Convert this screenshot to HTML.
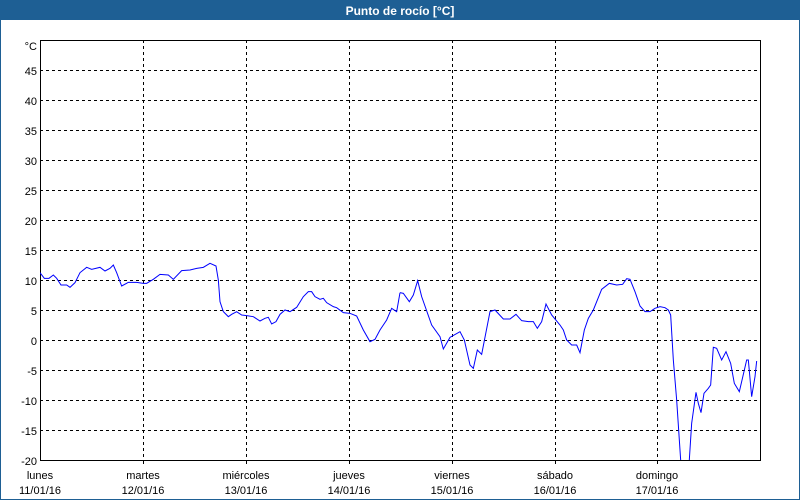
<!DOCTYPE html>
<html><head><meta charset="utf-8"><style>
html,body{margin:0;padding:0;}
body{width:800px;height:500px;overflow:hidden;background:#fff;font-family:"Liberation Sans",Tahoma,sans-serif;}
</style></head><body>
<svg width="800" height="500" xmlns="http://www.w3.org/2000/svg" style="display:block">
<rect x="0" y="0" width="800" height="500" fill="#fff"/>
<rect x="0" y="0" width="800" height="20" fill="#1e5f94"/>
<rect x="0.5" y="0.5" width="799" height="499" fill="none" stroke="#1e5f94" stroke-width="1"/>
<text x="400" y="15" fill="#fff" font-size="12" font-weight="bold" text-anchor="middle" font-family="Liberation Sans, sans-serif">Punto de rocío [°C]</text>
<g stroke="#000" stroke-width="1" stroke-dasharray="3,3" shape-rendering="crispEdges">
<line x1="40" y1="70.5" x2="760" y2="70.5"/><line x1="40" y1="100.5" x2="760" y2="100.5"/>
<line x1="40" y1="130.5" x2="760" y2="130.5"/><line x1="40" y1="160.5" x2="760" y2="160.5"/>
<line x1="40" y1="190.5" x2="760" y2="190.5"/><line x1="40" y1="220.5" x2="760" y2="220.5"/>
<line x1="40" y1="250.5" x2="760" y2="250.5"/><line x1="40" y1="280.5" x2="760" y2="280.5"/>
<line x1="40" y1="310.5" x2="760" y2="310.5"/><line x1="40" y1="340.5" x2="760" y2="340.5"/>
<line x1="40" y1="370.5" x2="760" y2="370.5"/><line x1="40" y1="400.5" x2="760" y2="400.5"/>
<line x1="40" y1="430.5" x2="760" y2="430.5"/>
<line x1="143.5" y1="40" x2="143.5" y2="460"/><line x1="246.5" y1="40" x2="246.5" y2="460"/>
<line x1="349.5" y1="40" x2="349.5" y2="460"/><line x1="452.5" y1="40" x2="452.5" y2="460"/>
<line x1="555.5" y1="40" x2="555.5" y2="460"/><line x1="657.5" y1="40" x2="657.5" y2="460"/>
</g>
<rect x="40.5" y="40.5" width="720" height="420" fill="none" stroke="#000" stroke-width="1" shape-rendering="crispEdges"/>
<g stroke="#000" shape-rendering="crispEdges">
<line x1="143.5" y1="460" x2="143.5" y2="464"/><line x1="246.5" y1="460" x2="246.5" y2="464"/>
<line x1="349.5" y1="460" x2="349.5" y2="464"/><line x1="452.5" y1="460" x2="452.5" y2="464"/>
<line x1="555.5" y1="460" x2="555.5" y2="464"/><line x1="657.5" y1="460" x2="657.5" y2="464"/>
</g>
<g font-size="11" fill="#000" text-anchor="end" font-family="Liberation Sans, sans-serif">
<text x="37" y="50">°C</text>
<text x="37" y="75">45</text><text x="37" y="105">40</text><text x="37" y="135">35</text>
<text x="37" y="165">30</text><text x="37" y="195">25</text><text x="37" y="225">20</text>
<text x="37" y="255">15</text><text x="37" y="285">10</text><text x="37" y="315">5</text>
<text x="37" y="345">0</text><text x="37" y="375">-5</text><text x="37" y="405">-10</text>
<text x="37" y="435">-15</text><text x="37" y="465">-20</text>
</g>
<g font-size="11" fill="#000" text-anchor="middle" font-family="Liberation Sans, sans-serif">
<text x="40" y="479">lunes</text><text x="40" y="494">11/01/16</text>
<text x="143" y="479">martes</text><text x="143" y="494">12/01/16</text>
<text x="246" y="479">miércoles</text><text x="246" y="494">13/01/16</text>
<text x="349" y="479">jueves</text><text x="349" y="494">14/01/16</text>
<text x="452" y="479">viernes</text><text x="452" y="494">15/01/16</text>
<text x="555" y="479">sábado</text><text x="555" y="494">16/01/16</text>
<text x="657" y="479">domingo</text><text x="657" y="494">17/01/16</text>
</g>
<defs><clipPath id="c"><rect x="40" y="40" width="720" height="420"/></clipPath></defs>
<g clip-path="url(#c)" fill="none" stroke="#0000ff" stroke-width="1">
<g transform="translate(0,250) scale(0.33333)">
<polyline vector-effect="non-scaling-stroke" points="120,68 133,85 147,85 160,75 170,85 183,105 200,105 210,112 225,98 240,68 260,52 275,58 300,52 315,63 330,55 340,45 350,68 365,108 385,97 410,97 430,100 440,100 460,88 480,73 505,75 520,88 545,62 570,60 590,55 610,52 630,40 648,48 655,90 660,155 670,185 685,200 695,193 710,185 725,195 740,197 760,200 780,213 795,205 805,202 815,222 828,215 840,193 855,180 870,185 890,172 910,140 925,125 935,125 945,140 960,148 970,145 980,158 1000,170 1010,173 1030,188 1050,190 1070,198 1090,240 1110,275 1125,268 1140,240 1160,210 1175,175 1190,185 1200,128"/>
</g>
<g transform="translate(400,250) scale(0.33333)">
<polyline vector-effect="non-scaling-stroke" points="0,128 10,130 28,155 40,135 53,92 65,140 95,225 120,260 130,297 150,262 180,245 193,270 210,345 220,355 232,300 245,313 270,185 285,180 310,207 330,207 348,193 365,212 385,215 400,215 412,235 425,215 438,162 455,195 480,225 490,240 500,270 515,285 530,285 540,308 553,240 565,205 580,180 605,118 628,100 650,105 668,103 680,86 690,88 705,125 720,168 735,185 750,185 765,175 780,170 795,173 805,180 812,195 820,330 830,450 842,630 848,660 866,660 875,520 888,427 895,460 903,488 912,430 925,415 932,405 940,292 950,295 965,330 978,305 992,340 1003,400 1018,425 1040,330 1045,330 1055,440 1065,380 1070,333"/>
</g>
</g>
</svg>
</body></html>
